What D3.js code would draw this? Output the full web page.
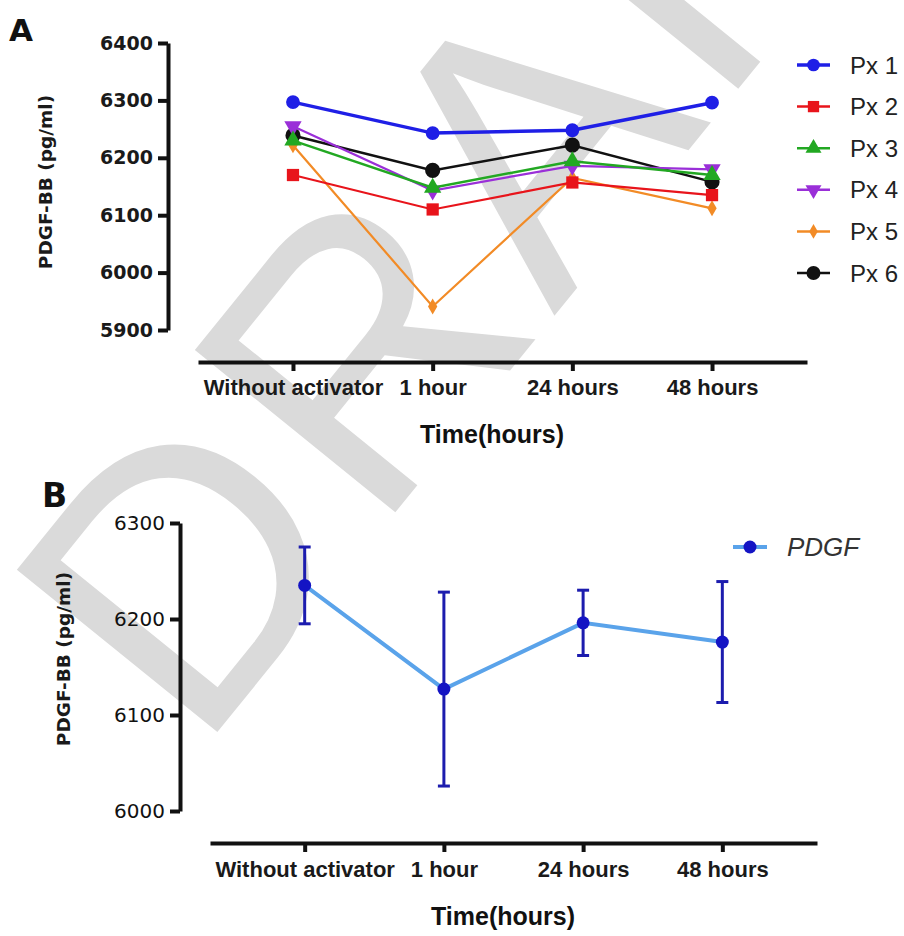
<!DOCTYPE html>
<html>
<head>
<meta charset="utf-8">
<script src="https://cdn.jsdelivr.net/npm/d3@7"></script>
<style>
  body { margin: 0; background: white; }
  svg { display: block; }
  .axis path, .axis line { stroke: #111; }
</style>
</head>
<body>
<svg width="904" height="936"></svg>
<script>
// ---- data ----
const categories = ["Without activator", "1 hour", "24 hours", "48 hours"]
const patients = ["Px 1", "Px 2", "Px 3", "Px 4", "Px 5", "Px 6"]
const px1 = [6297, 6243, 6248, 6296]
const px2 = [6170, 6110, 6157, 6135]
const px3 = [6230, 6148, 6194, 6170]
const px4 = [6255, 6143, 6186, 6180]
const px5 = [6222, 5941, 6165, 6112]
const px6 = [6239, 6178, 6222, 6158]
const ticksA = [5900, 6000, 6100, 6200, 6300, 6400]

const pdgfMean = [6235, 6127, 6196, 6176]
const pdgfSd = [40, 101, 34, 63]
const ticksB = [6000, 6100, 6200, 6300]

const series = [px1, px2, px3, px4, px5, px6]
const colors = ["#1f1fe6", "#e8141b", "#22a822", "#9a2fd8", "#f28b26", "#111111"]
const shapes = ["circle", "square", "triangle", "triangleDown", "diamond", "circle"]

var svg = d3.select("svg")

// watermark behind everything
svg.append("text")
  .attr("transform", "translate(198,756) rotate(-51)")
  .style("font-family", "Liberation Sans, Arial, sans-serif")
  .style("font-size", "375px")
  .style("letter-spacing", "12px")
  .style("fill", "#dadada")
  .text("DRAFT")

function symbolPath(kind, size) {
  if (kind == "circle") return d3.symbol(d3.symbolCircle, size)()
  if (kind == "square") return d3.symbol(d3.symbolSquare, size)()
  if (kind == "diamond") return d3.symbol(d3.symbolDiamond, size)()
  return d3.symbol(d3.symbolTriangle, size)()
}

function marker(g, kind, color, size) {
  let m = g.append("path")
    .attr("d", symbolPath(kind, size))
    .style("fill", color)
  if (kind == "triangleDown") m.attr("transform", "rotate(180)")
  return m
}

function styleAxis(g, width) {
  g.selectAll("path, line").style("stroke-width", width).style("stroke", "#111")
  g.selectAll("text").style("fill", "#1a1a1a")
}

// ---- panel A ----
var xA = d3.scalePoint().domain(categories).range([198, 807]).padding(0.68)
var yA = d3.scaleLinear().domain([5900, 6400]).range([330, 43])

var yAxisA = svg.append("g").attr("class", "axis")
  .attr("transform", "translate(168,0)")
  .call(d3.axisLeft(yA).tickValues(ticksA).tickFormat(d3.format("d"))
    .tickSize(10).tickSizeOuter(0).tickPadding(5))
yAxisA.selectAll("text")
  .style("font-family", "DejaVu Sans, sans-serif")
  .style("font-weight", "bold")
  .style("font-size", "19px")
styleAxis(yAxisA, 4)

var xAxisA = svg.append("g").attr("class", "axis")
  .attr("transform", "translate(0,362)")
  .call(d3.axisBottom(xA).tickSize(9).tickSizeOuter(0).tickPadding(8))
xAxisA.selectAll("text")
  .style("font-family", "Liberation Sans, Arial, sans-serif")
  .style("font-weight", "bold")
  .style("font-size", "22px")
styleAxis(xAxisA, 4)

svg.append("text")
  .attr("transform", "translate(52,182) rotate(-90)")
  .style("text-anchor", "middle")
  .style("font-family", "DejaVu Sans, sans-serif")
  .style("font-weight", "bold")
  .style("font-size", "18.5px")
  .style("fill", "#1a1a1a")
  .text("PDGF-BB (pg/ml)")

svg.append("text")
  .attr("x", 492).attr("y", 443)
  .style("text-anchor", "middle")
  .style("font-family", "Liberation Sans, Arial, sans-serif")
  .style("font-weight", "bold")
  .style("font-size", "25px")
  .style("fill", "#111")
  .text("Time(hours)")

svg.append("text")
  .attr("x", 9).attr("y", 41)
  .style("font-family", "DejaVu Sans, sans-serif")
  .style("font-weight", "bold")
  .style("font-size", "31px")
  .style("fill", "#111")
  .text("A")

var lineA = d3.line()
  .x((d, i) => xA(categories[i]))
  .y(d => yA(d))

var sizesA = [150, 150, 130, 130, 75, 180]
var widthsA = [3.5, 2.2, 2.5, 2.2, 2.2, 2.5]

// draw Px 1 last so the thick blue line sits on top
var order = [5, 4, 3, 2, 1, 0]
order.forEach(k => {
  let g = svg.append("g")
  g.append("path")
    .attr("d", lineA(series[k]))
    .style("fill", "none")
    .style("stroke", colors[k])
    .style("stroke-width", widthsA[k])
  series[k].forEach((v, i) => {
    let mg = g.append("g")
      .attr("transform", `translate(${xA(categories[i])},${yA(v)})`)
    marker(mg, shapes[k], colors[k], sizesA[k])
  })
})

// legend A
var legendA = svg.append("g")
patients.forEach((p, k) => {
  let row = legendA.append("g")
    .attr("transform", `translate(797,${65 + k * 41.6})`)
  row.append("line")
    .attr("x1", 0).attr("x2", 33)
    .style("stroke", colors[k])
    .style("stroke-width", k == 0 ? 3.5 : 2.5)
  let mg = row.append("g").attr("transform", "translate(16.5,0)")
  marker(mg, shapes[k], colors[k], sizesA[k] * 0.85)
  row.append("text")
    .attr("x", 53).attr("y", 8.5)
    .style("font-family", "Liberation Sans, Arial, sans-serif")
    .style("font-size", "24px")
    .style("fill", "#222")
    .text(p)
})

// ---- panel B ----
var xB = d3.scalePoint().domain(categories).range([210, 817]).padding(0.68)
var yB = d3.scaleLinear().domain([6000, 6300]).range([811, 523])

var yAxisB = svg.append("g").attr("class", "axis")
  .attr("transform", "translate(180,0)")
  .call(d3.axisLeft(yB).tickValues(ticksB).tickFormat(d3.format("d"))
    .tickSize(10).tickSizeOuter(0).tickPadding(5))
yAxisB.selectAll("text")
  .style("font-family", "DejaVu Sans, sans-serif")
  .style("font-size", "20px")
styleAxis(yAxisB, 4)
yAxisB.selectAll("text").style("fill", "#111")

var xAxisB = svg.append("g").attr("class", "axis")
  .attr("transform", "translate(0,843)")
  .call(d3.axisBottom(xB).tickSize(9).tickSizeOuter(0).tickPadding(9))
xAxisB.selectAll("text")
  .style("font-family", "Liberation Sans, Arial, sans-serif")
  .style("font-weight", "bold")
  .style("font-size", "22px")
styleAxis(xAxisB, 4)

svg.append("text")
  .attr("transform", "translate(70,659) rotate(-90)")
  .style("text-anchor", "middle")
  .style("font-family", "DejaVu Sans, sans-serif")
  .style("font-weight", "bold")
  .style("font-size", "18.5px")
  .style("fill", "#1a1a1a")
  .text("PDGF-BB (pg/ml)")

svg.append("text")
  .attr("x", 503).attr("y", 925)
  .style("text-anchor", "middle")
  .style("font-family", "Liberation Sans, Arial, sans-serif")
  .style("font-weight", "bold")
  .style("font-size", "25px")
  .style("fill", "#111")
  .text("Time(hours)")

svg.append("text")
  .attr("x", 42).attr("y", 507)
  .style("font-family", "DejaVu Sans, sans-serif")
  .style("font-weight", "bold")
  .style("font-size", "33px")
  .style("fill", "#111")
  .text("B")

var lineB = d3.line()
  .x((d, i) => xB(categories[i]))
  .y(d => yB(d))

svg.append("path")
  .attr("d", lineB(pdgfMean))
  .style("fill", "none")
  .style("stroke", "#5aa3ea")
  .style("stroke-width", 4)

var errColor = "#1c1cae"
var err = svg.append("g")
pdgfMean.forEach((m, i) => {
  let x = xB(categories[i])
  let top = yB(m + pdgfSd[i]), bottom = yB(m - pdgfSd[i])
  err.append("line").attr("x1", x).attr("x2", x).attr("y1", top).attr("y2", bottom)
  err.append("line").attr("x1", x - 6).attr("x2", x + 6).attr("y1", top).attr("y2", top)
  err.append("line").attr("x1", x - 6).attr("x2", x + 6).attr("y1", bottom).attr("y2", bottom)
})
err.selectAll("line").style("stroke", errColor).style("stroke-width", 3)

svg.append("g").selectAll("circle")
  .data(pdgfMean)
  .join("circle")
  .attr("cx", (d, i) => xB(categories[i]))
  .attr("cy", d => yB(d))
  .attr("r", 6.5)
  .style("fill", "#1414c4")

// legend B
var legendB = svg.append("g").attr("transform", "translate(733,547)")
legendB.append("line")
  .attr("x1", 0).attr("x2", 34)
  .style("stroke", "#5aa3ea")
  .style("stroke-width", 4)
legendB.append("circle").attr("cx", 17).attr("r", 6.5).style("fill", "#1414c4")
legendB.append("text")
  .attr("x", 54).attr("y", 9)
  .style("font-family", "Liberation Sans, Arial, sans-serif")
  .style("font-style", "italic")
  .style("font-size", "26px")
  .style("fill", "#333")
  .text("PDGF")
</script>
</body>
</html>
